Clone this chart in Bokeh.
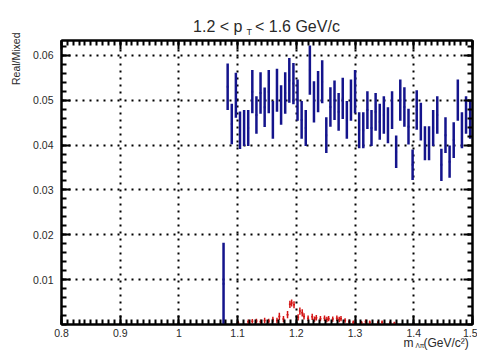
import numpy as np
from bokeh.plotting import figure
from bokeh.models import (Range1d, FixedTicker, LinearAxis, Label, CustomJSTickFormatter,
                          PrintfTickFormatter, ColumnDataSource)
from bokeh.embed import file_html
from bokeh.resources import INLINE

# ---------------- data ----------------
title_text = "1.2 < p\u2002\u00a0< 1.6 GeV/c"
title_sub = "T"
ylabel = "Real/Mixed"
xlabel_main = "m\u00a0\u00a0\u00a0(GeV/c\u00b2)"
xlabel_sub = "\u039b\u03c0"

x_ticks = [0.8, 0.9, 1.0, 1.1, 1.2, 1.3, 1.4, 1.5]
y_ticks = [0.01, 0.02, 0.03, 0.04, 0.05, 0.06]

blue_x = [1.076, 1.083, 1.090, 1.097, 1.104, 1.111, 1.118, 1.125, 1.132, 1.139, 1.146,
          1.153, 1.160, 1.167, 1.174, 1.181, 1.188, 1.195, 1.202, 1.209, 1.216,
          1.223, 1.230, 1.237, 1.244, 1.251, 1.258, 1.265, 1.272, 1.279, 1.286,
          1.293, 1.300, 1.307, 1.314, 1.321, 1.328, 1.335, 1.342, 1.349, 1.356,
          1.363, 1.370, 1.377, 1.384, 1.391, 1.398, 1.405, 1.412, 1.419, 1.426,
          1.433, 1.440, 1.447, 1.454, 1.461, 1.468, 1.475, 1.482, 1.489, 1.496]
blue_y = [0.0091, 0.0530, 0.0447, 0.0511, 0.0433, 0.0438, 0.0438, 0.0519, 0.0467, 0.0516,
          0.0484, 0.0519, 0.0456, 0.0522, 0.0489, 0.0516, 0.0544, 0.0537, 0.0500, 0.0456,
          0.0438, 0.0567, 0.0496, 0.0519, 0.0541, 0.0422, 0.0485, 0.0500, 0.0474, 0.0504,
          0.0456, 0.0500, 0.0519, 0.0433, 0.0433, 0.0478, 0.0438, 0.0474, 0.0452, 0.0467,
          0.0444, 0.0478, 0.0385, 0.0500, 0.0485, 0.0441, 0.0356, 0.0478, 0.0452, 0.0404,
          0.0404, 0.0438, 0.0467, 0.0356, 0.0422, 0.0363, 0.0411, 0.0500, 0.0433, 0.0467,
          0.0456]
blue_err = [0.0091, 0.0052, 0.0045, 0.0050, 0.0042, 0.0040, 0.0040, 0.0048, 0.0042, 0.0046,
            0.0044, 0.0048, 0.0042, 0.0048, 0.0044, 0.0046, 0.0050, 0.0046, 0.0046, 0.0042,
            0.0040, 0.0055, 0.0046, 0.0046, 0.0048, 0.0040, 0.0044, 0.0044, 0.0042, 0.0046,
            0.0042, 0.0046, 0.0048, 0.0040, 0.0040, 0.0042, 0.0040, 0.0042, 0.0040, 0.0042,
            0.0040, 0.0042, 0.0036, 0.0046, 0.0044, 0.0040, 0.0034, 0.0044, 0.0042, 0.0038,
            0.0038, 0.0040, 0.0042, 0.0036, 0.0040, 0.0036, 0.0040, 0.0046, 0.0040, 0.0042,
            0.0042]

red_x = [1.101, 1.118, 1.125, 1.132, 1.139, 1.146, 1.153, 1.160, 1.167, 1.171, 1.178,
         1.185, 1.189, 1.192, 1.196, 1.203, 1.206, 1.210, 1.213, 1.220, 1.227, 1.231,
         1.234, 1.241, 1.248, 1.252, 1.255, 1.262, 1.269, 1.273, 1.276, 1.283, 1.290,
         1.297, 1.311, 1.318, 1.325, 1.339, 1.346, 1.360, 1.367]
red_y = [0.0004, 0.0006, 0.0007, 0.0008, 0.0006, 0.0009, 0.0008, 0.0011, 0.0009, 0.0018,
         0.0012, 0.0022, 0.0045, 0.0048, 0.0044, 0.0016, 0.0030, 0.0026, 0.0018, 0.0014,
         0.0017, 0.0012, 0.0015, 0.0013, 0.0014, 0.0011, 0.0013, 0.0012, 0.0014, 0.0011,
         0.0013, 0.0009, 0.0006, 0.0005, 0.0004, 0.0006, 0.0005, 0.0004, 0.0005, 0.0004,
         0.0003]
red_err = [0.0004, 0.0005, 0.0005, 0.0005, 0.0005, 0.0006, 0.0005, 0.0006, 0.0006, 0.0008,
           0.0007, 0.0008, 0.0008, 0.0008, 0.0008, 0.0007, 0.0008, 0.0008, 0.0007, 0.0006,
           0.0007, 0.0006, 0.0006, 0.0006, 0.0006, 0.0006, 0.0006, 0.0006, 0.0006, 0.0006,
           0.0006, 0.0005, 0.0005, 0.0004, 0.0004, 0.0005, 0.0004, 0.0004, 0.0004, 0.0004,
           0.0003]

# ---------------- styling ----------------
FONT = "Liberation Sans"
BLUE = "#14148c"
RED = "#d41414"
TXT = "#2a2a2a"

p = figure(width=477, height=351, output_backend="svg", toolbar_location=None,
           x_range=Range1d(0.8, 1.5), y_range=Range1d(0.0, 0.0633),
           x_axis_location=None, y_axis_location=None, title=None,
           min_border_left=61, min_border_right=5, min_border_top=40, min_border_bottom=27)
p.background_fill_color = "white"
p.border_fill_color = "white"
p.outline_line_color = "black"
p.outline_line_width = 2

x_minor = [round(v, 3) for v in np.arange(0.8, 1.5001, 0.01)]
y_minor = [round(v, 4) for v in np.arange(0.0, 0.0633, 0.002)]
xt = FixedTicker(ticks=x_ticks, minor_ticks=x_minor)
yt = FixedTicker(ticks=y_ticks, minor_ticks=y_minor)

empty = CustomJSTickFormatter(code="return ''")
xfmt = CustomJSTickFormatter(code="return tick.toFixed(1).replace(/\\.0$/, '')")


def style(ax):
    ax.axis_line_color = "black"
    ax.axis_line_width = 2
    ax.major_tick_in = 9
    ax.major_tick_out = 0
    ax.minor_tick_in = 5
    ax.minor_tick_out = 0
    ax.major_tick_line_width = 2
    ax.minor_tick_line_width = 2
    ax.major_tick_line_color = "black"
    ax.minor_tick_line_color = "black"
    ax.major_label_text_font = FONT
    ax.major_label_text_font_size = "10.5px"
    ax.major_label_text_color = TXT


bx = LinearAxis(ticker=xt, formatter=xfmt, major_label_standoff=4)
tx = LinearAxis(ticker=xt, formatter=empty, major_label_standoff=0)
ly = LinearAxis(ticker=yt, formatter=PrintfTickFormatter(format="%.2f"), major_label_standoff=8)
ry = LinearAxis(ticker=yt, formatter=empty, major_label_standoff=0)
for a in (bx, tx, ly, ry):
    style(a)
p.add_layout(bx, "below")
p.add_layout(tx, "above")
p.add_layout(ly, "left")
p.add_layout(ry, "right")

p.xgrid.ticker = xt
p.ygrid.ticker = yt
for g in (p.xgrid, p.ygrid):
    g.grid_line_color = "black"
    g.grid_line_width = 2
    g.grid_line_dash = "2 5"

# ---------------- blue series ----------------
bx_ = np.array(blue_x); by_ = np.array(blue_y); be_ = np.array(blue_err)
bsrc = ColumnDataSource(dict(x=bx_, y=by_, lo=by_ - be_, hi=by_ + be_,
                             xl=bx_ - 0.0015, xr=bx_ + 0.0015))
p.segment(x0="x", y0="lo", x1="x", y1="hi", source=bsrc, line_color=BLUE, line_width=2.5)
p.segment(x0="xl", y0="y", x1="xr", y1="y", source=bsrc, line_color=BLUE, line_width=2)

# ---------------- red series ----------------
rx_ = np.array(red_x); ry_ = np.array(red_y); re_ = np.array(red_err)
rsrc = ColumnDataSource(dict(x=rx_, y=ry_, lo=np.clip(ry_ - re_, 0, None), hi=ry_ + re_,
                             xl=rx_ - 0.0017, xr=rx_ + 0.0017))
p.segment(x0="x", y0="lo", x1="x", y1="hi", source=rsrc, line_color=RED, line_width=1.5)
p.segment(x0="xl", y0="y", x1="xr", y1="y", source=rsrc, line_color=RED, line_width=1.5)

# ---------------- texts ----------------
def lab(side, text, x, y, size, align="left", baseline="alphabetic", angle=0.0):
    p.add_layout(Label(x=x, y=y, x_units="screen", y_units="screen", text=text,
                       text_font=FONT, text_font_size=size, text_color=TXT,
                       text_align=align, text_baseline=baseline, angle=angle), side)

# above panel: x from frame left, y up from panel bottom
lab("above", title_text, 266 - 61, 14, "16px", align="center")
lab("above", xlabel_main, 403 - 61, 21 - 340, "12px")
# left panel labels (offsets calibrated from previous renders)
lab("left", ylabel, -3, 324 - 32, "10.5px", align="right", baseline="middle", angle=np.pi / 2)
lab("left", title_sub, 233, 324 - 31, "9px")
lab("left", xlabel_sub, 411, 324 - 345, "6.5px")

open("out.html", "w").write(file_html(p, INLINE))
